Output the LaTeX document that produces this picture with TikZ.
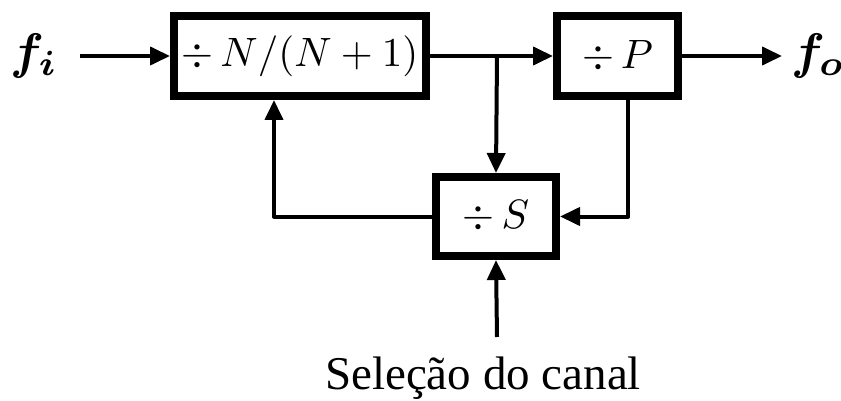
\documentclass[tikz,border=0pt]{standalone}
\usepackage{fontspec}
\usepackage{graphicx}
\newfontfamily\timesf{Liberation Serif}
\usetikzlibrary{arrows.meta}
\begin{document}
\begin{tikzpicture}[x=1pt,y=-1pt,
  blk/.style={draw,line width=8pt,fill=white,inner sep=0pt},
  conn/.style={line width=4pt,line join=round},
  arr/.style={conn,-{Triangle[length=20pt,width=18pt]}}]
\useasboundingbox (0,0) rectangle (841,401);
\node[blk,minimum width=252pt,minimum height=80pt] (nn) at (300,56) {\scalebox{4.1}{$\div\, N/(N+1)$}};
\node[blk,minimum width=121pt,minimum height=80pt] (p) at (617.5,56) {\scalebox{4.1}{$\div\, P$}};
\node[blk,minimum width=120pt,minimum height=79pt] (s) at (496,216.5) {\scalebox{4.1}{$\div\, S$}};
\node (fi) at (34,56) {\scalebox{5}{\boldmath$f_i$}};
\node (fo) at (818,56) {\scalebox{5}{\boldmath$f_o$}};
\node[font=\timesf\fontsize{47}{56}\selectfont,anchor=base] (sel) at (483,389) {Seleção do canal};
\coordinate (inS) at (80,56);
\coordinate (outE) at (782,56);
\coordinate (br) at (497,56);
\coordinate (pb) at (628,96);
\coordinate (pc) at (628,216.5);
\coordinate (lc) at (274,216.5);
\coordinate (bot) at (497,337);
\draw[arr] (inS) -- (nn.west);
\draw[arr] (nn.east) -- (p.west);
\draw[arr] (p.east) -- (outE);
\draw[arr] (br) -- (s.north);
\draw[arr] (pb) -- (pc) -- (s.east);
\draw[arr] (s.west) -- (lc) -- (nn.south -| lc);
\draw[arr] (bot) -- (s.south);
\end{tikzpicture}
\end{document}
